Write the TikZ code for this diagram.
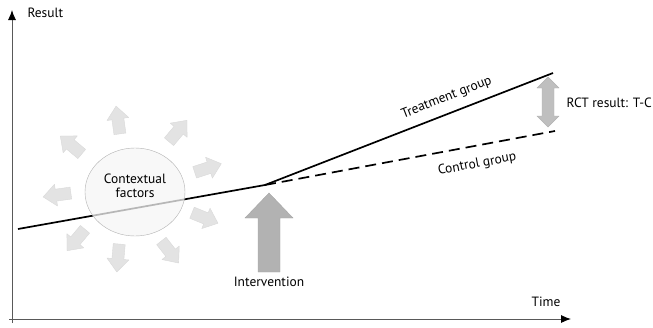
\documentclass[tikz,border=0pt]{standalone}
\usepackage{fontspec}
\setmainfont{PT Sans}
\usetikzlibrary{shapes.geometric,arrows.meta}

\begin{document}
\begin{tikzpicture}[x=1bp,y=1bp,font=\fontsize{13.5}{14.5}\selectfont,
ray/.style={draw=gray!30,fill=gray!22,line join=round},
axis/.style={draw=black!65,line width=0.9bp,-{Latex[length=10bp,width=8bp,black]}},
trend/.style={line width=1.7bp}]
\useasboundingbox (0,0) rectangle (653,327);
% axes
\coordinate (yfoot) at (12,4);
\coordinate (ytip) at (12,317);
\coordinate (xfoot) at (9,8);
\coordinate (xtip) at (571,8);
\draw[axis] (yfoot) -- (ytip);
\draw[axis] (xfoot) -- (xtip);
\node[anchor=west] (res) at (24,314) {Result};
\node (time) at (546,25) {Time};
% trend lines
\coordinate (start) at (18,98);
\coordinate (brk) at (265,142);
\coordinate (tend) at (553,254);
\coordinate (cend) at (555,196);
\draw[trend] (start) -- (brk) -- (tend)
   node[pos=0.65,sloped,above=5bp] (treat) {Treatment group};
\draw[trend,dash pattern=on 11bp off 6bp] (brk) -- (cend)
   node[pos=0.72,sloped,below=8bp] (ctrl) {Control group};
% context
\node[ellipse,draw=gray!60,fill=gray!8,fill opacity=0.75,minimum width=100bp,minimum height=88bp] (ctx) at (135,135) {};
\node[align=center,font=\fontsize{13.5}{14}\selectfont] (ctxtext) at (135,141) {Contextual\\factors};
\foreach \x/\y/\a in %
{118/207/98,178/196/50,208/159/18,205/109/-22,170/75/-52,
 118/69/-95,76/87/-130,57/132/188,71/182/140} {
   \begin{scope}[shift={(\x,\y)},rotate=\a]
   \draw[ray] (-14,-6) -- (1,-6) -- (1,-11) -- (14,0) -- (1,11) -- (1,6) -- (-14,6) -- cycle;
   \end{scope}
}
% intervention
\coordinate (intv) at (269,55);
\draw[draw=gray!70,fill=gray!60] (intv) ++(-11,0) -- ++(0,54) -- ++(-13,0) -- ++(24,25)
   -- ++(24,-25) -- ++(-13,0) -- ++(0,-54) -- cycle;
\node (intvtext) at (269,45) {Intervention};
% result
\coordinate (rct) at (548,225);
\draw[draw=gray!60,fill=gray!50] (rct) ++(-6,-14) -- ++(-5,0) -- ++(11,-11) -- ++(11,11) -- ++(-5,0)
   -- ++(0,28) -- ++(5,0) -- ++(-11,11) -- ++(-11,-11) -- ++(5,0) -- cycle;
\node[anchor=east,inner xsep=1bp] (rcttext) at (653,224) {RCT result: T-C};
\end{tikzpicture}
\end{document}
